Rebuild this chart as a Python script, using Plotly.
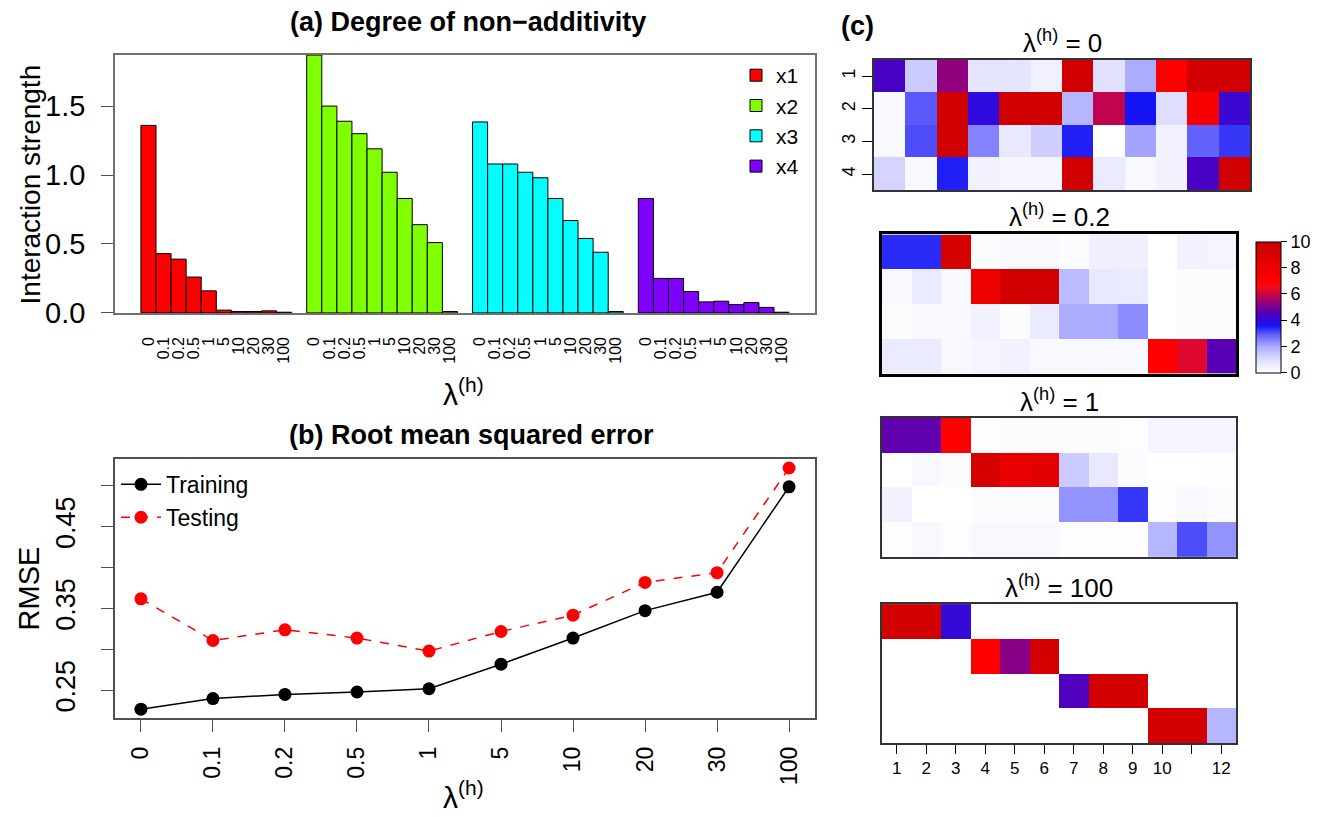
import plotly.graph_objects as go

# ---------------- data ----------------
lambdas = ["0", "0.1", "0.2", "0.5", "1", "5", "10", "20", "30", "100"]
variables = ["x1", "x2", "x3", "x4"]
bar_colors = ["#FF0000", "#80FF00", "#00FFFF", "#8000FF"]

strength_x1 = [1.36, 0.43, 0.39, 0.26, 0.16, 0.02, 0.01, 0.01, 0.015, 0.005]
strength_x2 = [1.87, 1.50, 1.39, 1.30, 1.19, 1.02, 0.83, 0.64, 0.51, 0.01]
strength_x3 = [1.385, 1.08, 1.08, 1.02, 0.98, 0.83, 0.67, 0.54, 0.44, 0.01]
strength_x4 = [0.83, 0.25, 0.25, 0.155, 0.08, 0.085, 0.06, 0.075, 0.04, 0.005]
strengths = [strength_x1, strength_x2, strength_x3, strength_x4]

rmse_train = [0.227, 0.240, 0.245, 0.248, 0.252, 0.282, 0.314, 0.3475, 0.370, 0.499]
rmse_test = [0.362, 0.311, 0.324, 0.314, 0.298, 0.322, 0.342, 0.382, 0.394, 0.522]
rmse_ticks = [0.25, 0.30, 0.35, 0.40, 0.45, 0.50]
rmse_ticktext = ["0.25", "", "0.35", "", "0.45", ""]

heat_cols = list(range(1, 13))
heat_rows = [1, 2, 3, 4]
heat_col_text = ["1", "2", "3", "4", "5", "6", "7", "8", "9", "10", "", "12"]

heat_lambda0 = [
    [4.4, 1.4, 5.3, 0.8, 0.8, 0.45, 9.5, 0.9, 2.0, 7.0, 9.5, 9.5],
    [0.2, 3.0, 9.5, 4.0, 9.5, 9.5, 1.8, 5.9, 3.6, 1.0, 7.5, 4.2],
    [0.2, 3.1, 9.5, 2.5, 0.7, 1.3, 3.5, 0.0, 2.1, 0.4, 2.9, 3.3],
    [1.2, 0.2, 3.5, 0.4, 0.3, 0.3, 9.5, 0.6, 0.2, 0.4, 4.4, 9.5],
]
heat_lambda02 = [
    [3.4, 3.4, 9.3, 0.1, 0.2, 0.2, 0.1, 0.5, 0.5, 0.0, 0.4, 0.3],
    [0.2, 0.6, 0.2, 8.0, 9.5, 9.5, 1.7, 0.7, 0.6, 0.0, 0.1, 0.1],
    [0.1, 0.2, 0.2, 0.4, 0.1, 0.6, 2.0, 2.0, 2.4, 0.0, 0.1, 0.1],
    [0.6, 0.6, 0.2, 0.3, 0.4, 0.2, 0.2, 0.2, 0.2, 7.0, 6.3, 4.6],
]
heat_lambda1 = [
    [4.7, 4.7, 7.0, 0.05, 0.1, 0.1, 0.1, 0.1, 0.05, 0.3, 0.3, 0.3],
    [0.0, 0.2, 0.1, 9.3, 8.2, 8.6, 1.4, 0.7, 0.1, 0.0, 0.0, 0.05],
    [0.4, 0.0, 0.0, 0.1, 0.1, 0.1, 2.3, 2.3, 3.3, 0.05, 0.2, 0.1],
    [0.05, 0.2, 0.05, 0.2, 0.2, 0.2, 0.05, 0.05, 0.05, 1.8, 3.1, 2.3],
]
heat_lambda100 = [
    [9.4, 9.4, 4.1, 0, 0, 0, 0, 0, 0, 0, 0, 0],
    [0, 0, 0, 7.0, 5.2, 9.3, 0, 0, 0, 0, 0, 0],
    [0, 0, 0, 0, 0, 0, 4.5, 9.4, 9.4, 0, 0, 0],
    [0, 0, 0, 0, 0, 0, 0, 0, 0, 9.4, 9.4, 1.8],
]
heat_titles = ["0", "0.2", "1", "100"]
heat_data = [heat_lambda0, heat_lambda02, heat_lambda1, heat_lambda100]
colorbar_ticks = [0, 2, 4, 6, 8, 10]

# ---------------- layout helpers ----------------
W, H = 1323, 817
FONT = "Liberation Sans, Arial, Helvetica, sans-serif"


def xd(a, b):
    return [a / W, b / W]


def yd(top, bottom):
    return [1 - bottom / H, 1 - top / H]


heat_scale = [
    [0.0, "rgb(255,255,255)"],
    [0.1, "rgb(222,222,255)"],
    [0.2, "rgb(172,172,255)"],
    [0.3, "rgb(90,90,250)"],
    [0.36, "rgb(20,20,245)"],
    [0.45, "rgb(80,0,190)"],
    [0.55, "rgb(160,0,110)"],
    [0.65, "rgb(240,10,30)"],
    [0.7, "rgb(255,0,0)"],
    [1.0, "rgb(200,0,0)"],
]

fig = go.Figure()

# ---------------- panel (a): bars ----------------
bar_tickvals, bar_ticktext = [], []
for g, (var, col, vals) in enumerate(zip(variables, bar_colors, strengths)):
    xs = [g * 11 + i + 1.5 for i in range(len(lambdas))]
    bar_tickvals += xs
    bar_ticktext += lambdas
    fig.add_trace(go.Bar(
        x=xs, y=vals, width=1, name=var,
        marker=dict(color=col, line=dict(color="black", width=1)),
        xaxis="x", yaxis="y", legend="legend", showlegend=True,
    ))

# ---------------- panel (b): RMSE ----------------
pos = list(range(1, len(lambdas) + 1))
fig.add_trace(go.Scatter(
    x=pos, y=rmse_train, mode="lines+markers", name="Training",
    line=dict(color="black", width=1.5),
    marker=dict(color="black", size=13),
    xaxis="x2", yaxis="y2", legend="legend2",
))
fig.add_trace(go.Scatter(
    x=pos, y=rmse_test, mode="lines+markers", name="Testing",
    line=dict(color="#FF0000", width=1.5, dash="dash"),
    marker=dict(color="#FF0000", size=13),
    xaxis="x2", yaxis="y2", legend="legend2",
))

# ---------------- panel (c): heatmaps ----------------
heat_boxes = [
    (866, 1242, 53, 186),
    (874, 1228, 231, 373),
    (874, 1228, 418, 560),
    (874, 1228, 608, 750),
]
for k, z in enumerate(heat_data):
    fig.add_trace(go.Heatmap(
        z=z, x=heat_cols, y=heat_rows, coloraxis="coloraxis",
        xaxis=f"x{k + 3}", yaxis=f"y{k + 3}", showlegend=False,
        xgap=0, ygap=0,
    ))

layout = dict(
    width=W, height=H,
    margin=dict(l=0, r=0, t=0, b=0),
    paper_bgcolor="white", plot_bgcolor="white",
    font=dict(family=FONT, color="black"),
    barmode="overlay",
    xaxis=dict(
        domain=xd(107, 807), range=[-0.72, 45.72],
        tickvals=bar_tickvals, ticktext=bar_ticktext, tickangle=-90,
        tickfont=dict(family=FONT, size=16, color="black"),
        ticks="", ticklabelstandoff=16,
        showline=True, mirror=True, linecolor="#707070", linewidth=1.5,
        showgrid=False, zeroline=False, anchor="y",
    ),
    yaxis=dict(
        domain=yd(48, 311), range=[0, 1.87],
        tickvals=[0, 0.5, 1.0, 1.5], ticktext=["0.0", "0.5", "1.0", "1.5"],
        tickfont=dict(family=FONT, size=29, color="black"),
        ticks="outside", ticklen=12, tickcolor="#505050",
        ticklabelstandoff=10,
        showline=True, mirror=True, linecolor="#707070", linewidth=1.5,
        showgrid=False, zeroline=False, anchor="x",
    ),
    xaxis2=dict(
        domain=xd(107, 807), range=[0.64, 10.36],
        tickvals=pos, ticktext=lambdas, tickangle=-90,
        tickfont=dict(family=FONT, size=23, color="black"),
        ticks="outside", ticklen=12, tickcolor="#505050",
        ticklabelstandoff=6,
        showline=True, mirror=True, linecolor="#505050", linewidth=1.5,
        showgrid=False, zeroline=False, anchor="y2",
    ),
    yaxis2=dict(
        domain=yd(460, 724), range=[0.2164, 0.533],
        tickvals=rmse_ticks, ticktext=rmse_ticktext, tickangle=-90,
        tickfont=dict(family=FONT, size=27, color="black"),
        ticks="outside", ticklen=12, tickcolor="#505050",
        ticklabelstandoff=15,
        showline=True, mirror=True, linecolor="#505050", linewidth=1.5,
        showgrid=False, zeroline=False, anchor="x2",
    ),
    coloraxis=dict(
        colorscale=heat_scale, cmin=0, cmax=10,
        colorbar=dict(
            x=1248 / W, xanchor="left", y=1 - 305 / H, yanchor="middle",
            len=134 / H, lenmode="fraction", thickness=25,
            xpad=0, ypad=0, outlinewidth=1, outlinecolor="black",
            tickvals=colorbar_ticks, ticks="outside", ticklen=6,
            tickcolor="black",
            tickfont=dict(family=FONT, size=18, color="black"),
        ),
    ),
    legend=dict(
        x=728 / W, y=1 - 48 / H, xanchor="left", yanchor="top",
        font=dict(family=FONT, size=21, color="black"),
        bgcolor="rgba(0,0,0,0)", tracegroupgap=0,
    ),
    legend2=dict(
        x=108 / W, y=1 - 464 / H, xanchor="left", yanchor="top",
        font=dict(family=FONT, size=23, color="black"),
        bgcolor="rgba(0,0,0,0)", tracegroupgap=0, itemwidth=40,
    ),
)

for k, (x0, x1, y0, y1) in enumerate(heat_boxes):
    n = k + 3
    border_w = 3 if k == 1 else 1.5
    border_c = "black" if k == 1 else "#333333"
    xa = dict(
        domain=xd(x0, x1), range=[0.5, 12.5], anchor=f"y{n}",
        showline=True, mirror=True, linecolor=border_c, linewidth=border_w,
        showgrid=False, zeroline=False,
    )
    ya = dict(
        domain=yd(y0, y1), range=[4.5, 0.5], anchor=f"x{n}",
        showline=True, mirror=True, linecolor=border_c, linewidth=border_w,
        showgrid=False, zeroline=False,
    )
    if k == 3:
        xa.update(tickvals=heat_cols, ticktext=heat_col_text, ticks="outside",
                  ticklen=9, tickcolor="black",
                  tickfont=dict(family=FONT, size=17, color="black"))
    else:
        xa.update(showticklabels=False, ticks="")
    if k == 0:
        ya.update(tickvals=heat_rows, ticktext=[str(r) for r in heat_rows],
                  tickangle=-90, ticks="outside", ticklen=10, tickcolor="black",
                  tickfont=dict(family=FONT, size=18, color="black"))
    else:
        ya.update(showticklabels=False, ticks="")
    layout[f"xaxis{n}"] = xa
    layout[f"yaxis{n}"] = ya

annotations = [
    dict(text="<b>(a) Degree of non−additivity</b>", x=460 / W, y=1 - 14 / H,
         font=dict(size=27)),
    dict(text="<b>(b) Root mean squared error</b>", x=463 / W, y=1 - 436 / H,
         font=dict(size=27)),
    dict(text="<b>(c)</b>", x=850 / W, y=1 - 18 / H, font=dict(size=27)),
    dict(text="Interaction strength", x=22 / W, y=1 - 180 / H, textangle=-90,
         font=dict(size=28)),
    dict(text="λ<sup>(h)</sup>", x=455 / W, y=1 - 392 / H, font=dict(size=30)),
    dict(text="RMSE", x=21 / W, y=1 - 592 / H, textangle=-90, font=dict(size=29)),
    dict(text="λ<sup>(h)</sup>", x=455 / W, y=1 - 803 / H, font=dict(size=30)),
]
title_y = [34, 212, 400, 590]
for k, (x0, x1, y0, y1) in enumerate(heat_boxes):
    annotations.append(dict(
        text=f"λ<sup>(h)</sup> = {heat_titles[k]}", x=(x0 + x1) / 2 / W,
        y=1 - title_y[k] / H, font=dict(size=26)))

for a in annotations:
    a.update(xref="paper", yref="paper", showarrow=False,
             xanchor="center", yanchor="middle")
    a["font"].update(family=FONT, color="black")
layout["annotations"] = annotations

fig.update_layout(**layout)
fig.write_html("out.html")
